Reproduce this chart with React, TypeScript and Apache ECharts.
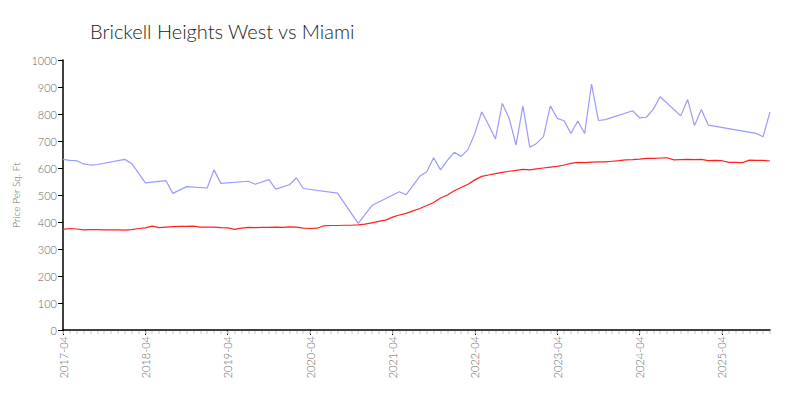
import React, { useEffect, useRef } from "react";
import * as echarts from "echarts";

const startYear = 2017;
const startMonth = 4;
const monthCount = 104;
const months: string[] = [];
for (let i = 0; i < monthCount; i++) {
  const m = startMonth - 1 + i;
  const y = startYear + Math.floor(m / 12);
  const mm = (m % 12) + 1;
  months.push(`${y}-${mm < 10 ? "0" + mm : mm}`);
}

const buildingValues: (number | null)[] = [
  632, 628, 627, 615, 611, 613, null, null, null, 632,
  617, null, 545, null, null, 553, 506, null, 531, null,
  null, 526, 593, 543, null, null, null, 551, 540, null,
  557, 522, null, 538, 564, 524, null, null, null, null,
  507, null, null, 395, null, 461, null, null, null, 512,
  501, null, 570, 586, 638, 593, 628, 658, 643, 668,
  728, 808, 760, 707, 839, 784, 685, 830, 677, 691,
  716, 830, 784, 775, 728, 774, 728, 911, 776, 779,
  null, null, null, 812, 786, 788, 818, 864, null, null,
  793, 854, 757, 817, 759, null, null, null, null, null,
  null, 728, 716, 808,
];

const miamiValues: number[] = [
  373, 376, 374, 371, 372, 372, 371, 371, 371, 370,
  372, 376, 378, 385, 379, 381, 383, 384, 384, 385,
  381, 381, 381, 379, 378, 373, 377, 380, 379, 380,
  380, 381, 380, 382, 381, 377, 376, 377, 386, 387,
  387, 388, 388, 389, 392, 397, 402, 407, 418, 426,
  432, 441, 450, 461, 472, 489, 500, 516, 528, 540,
  556, 569, 574, 579, 584, 588, 591, 595, 593, 597,
  600, 603, 606, 611, 617, 621, 620, 622, 623, 623,
  625, 627, 630, 631, 633, 636, 636, 637, 638, 630,
  631, 632, 631, 632, 627, 628, 627, 621, 621, 620,
  629, 628, 628, 626,
];

const titleText = "Brickell Heights West vs Miami";
const yAxisName = "Price Per Sq. Ft";
const FONT = "Lato, 'Open Sans', sans-serif";

export default function App() {
  const ref = useRef<HTMLDivElement>(null);
  useEffect(() => {
    if (!ref.current) return;
    const chart = echarts.init(ref.current, undefined, { renderer: "svg" });
    chart.setOption({
      animation: false,
      backgroundColor: "#ffffff",
      textStyle: { fontFamily: FONT },
      title: {
        text: titleText,
        left: 85,
        top: 16,
        textStyle: { fontFamily: FONT, fontSize: 20, fontWeight: 300, color: "#222" },
      },
      grid: { left: 63, right: 30, top: 60, bottom: 70 },
      xAxis: [
        {
          type: "category",
          data: months,
          boundaryGap: false,
          axisLine: { lineStyle: { color: "#000", width: 1.5 } },
          axisTick: { interval: 11, length: 5, lineStyle: { color: "#000" } },
          axisLabel: {
            interval: 11,
            rotate: 90,
            color: "#666",
            fontSize: 11,
            fontFamily: FONT,
            fontWeight: 300,
            margin: 6,
          },
          splitLine: { show: false },
        },
        {
          type: "category",
          data: months,
          boundaryGap: false,
          position: "bottom",
          offset: 1,
          axisLine: { show: false },
          axisTick: { interval: 0, length: 3, lineStyle: { color: "#d8d8d8", width: 1.5 } },
          axisLabel: { show: false },
          splitLine: { show: false },
        },
      ],
      yAxis: {
        type: "value",
        min: 0,
        max: 1000,
        interval: 100,
        name: yAxisName,
        nameLocation: "middle",
        nameGap: 36,
        nameTextStyle: { color: "#666", fontSize: 10, fontFamily: FONT, fontWeight: 300 },
        axisLine: { show: true, lineStyle: { color: "#000", width: 1.5 } },
        axisTick: { show: true, length: 5, lineStyle: { color: "#000" } },
        axisLabel: {
          color: "#666",
          fontSize: 11,
          fontFamily: FONT,
          fontWeight: 300,
          margin: 6,
          formatter: (v: number) => String(v),
        },
        splitLine: { show: false },
      },
      series: [
        {
          name: "Brickell Heights West",
          type: "line",
          data: buildingValues,
          connectNulls: true,
          showSymbol: false,
          symbol: "none",
          lineStyle: { color: "#9a9aff", width: 1.2 },
        },
        {
          name: "Miami",
          type: "line",
          data: miamiValues,
          showSymbol: false,
          symbol: "none",
          lineStyle: { color: "#ff2020", width: 1.2 },
        },
      ],
    });
    return () => chart.dispose();
  }, []);
  return (
    <div
      ref={ref}
      style={{ position: "fixed", left: 0, top: 0, width: 800, height: 400 }}
    />
  );
}
